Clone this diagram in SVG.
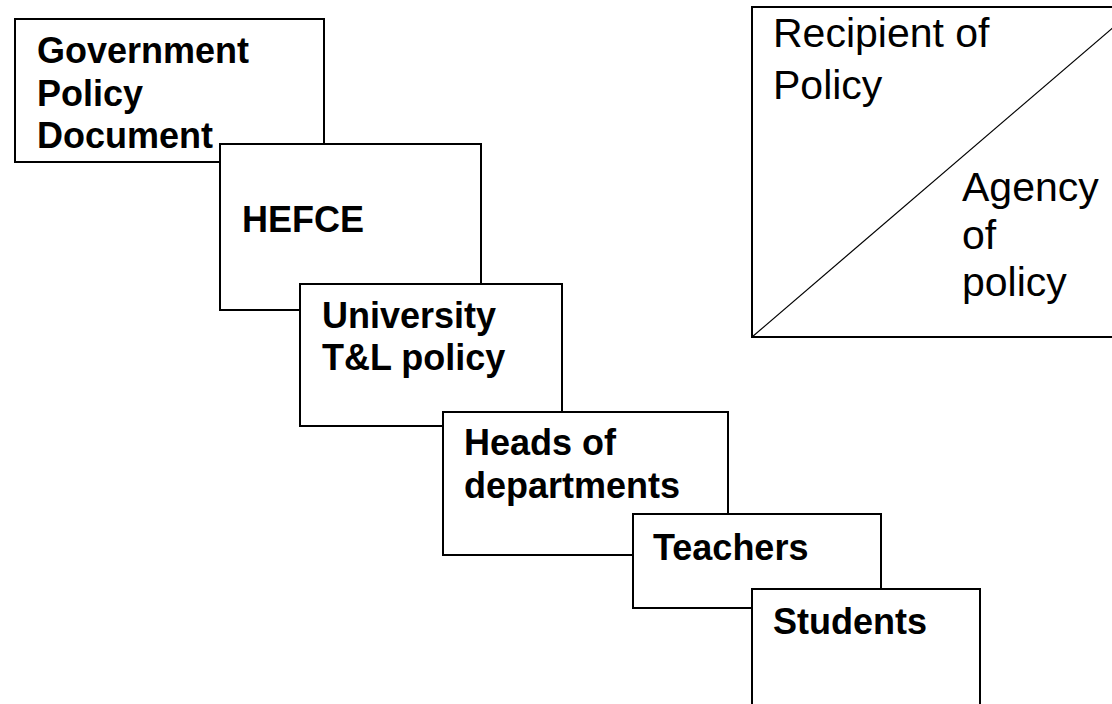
<svg xmlns="http://www.w3.org/2000/svg" width="1112" height="704" viewBox="0 0 1112 704">
<style>
.box{fill:#fff;stroke:#000;stroke-width:2}
.b{font-family:"Liberation Sans",Arial,sans-serif;font-weight:bold;font-size:36px;fill:#000}
.r{font-family:"Liberation Sans",Arial,sans-serif;font-size:41px;fill:#000}
</style>
<rect width="1112" height="704" fill="#fff"/>
<g id="gov">
<rect class="box" x="15" y="19" width="309" height="143"/>
<text class="b" x="37" y="63">Government</text>
<text class="b" x="37" y="106">Policy</text>
<text class="b" x="37" y="148">Document</text>
</g>
<g id="hefce">
<rect class="box" x="220" y="144" width="261" height="166"/>
<text class="b" x="242" y="232">HEFCE</text>
</g>
<g id="university">
<rect class="box" x="300" y="284" width="262" height="142"/>
<text class="b" x="322" y="328">University</text>
<text class="b" x="322" y="370">T&amp;L policy</text>
</g>
<g id="heads">
<rect class="box" x="443" y="412" width="285" height="143"/>
<text class="b" x="464" y="455">Heads of</text>
<text class="b" x="464" y="498">departments</text>
</g>
<g id="teachers">
<rect class="box" x="633" y="514" width="248" height="94"/>
<text class="b" x="653" y="560">Teachers</text>
</g>
<g id="students">
<rect class="box" x="752" y="589" width="228" height="130"/>
<text class="b" x="773" y="634">Students</text>
</g>
<g id="legend">
<rect class="box" x="752" y="7" width="400" height="330"/>
<line x1="752" y1="337" x2="1137" y2="7" stroke="#000" stroke-width="1.2"/>
<text class="r" x="773" y="47">Recipient of</text>
<text class="r" x="773" y="99">Policy</text>
<text class="r" x="962" y="201">Agency</text>
<text class="r" x="962" y="249">of</text>
<text class="r" x="962" y="296">policy</text>
</g>
<g id="connectors"></g>
</svg>
